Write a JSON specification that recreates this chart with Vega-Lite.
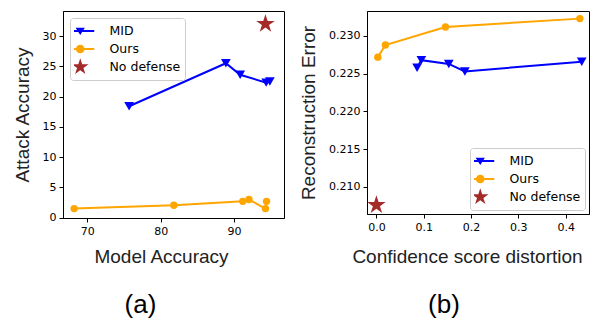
{
  "$schema": "https://vega.github.io/schema/vega-lite/v6.json",
  "padding": {"left": 12, "top": 10, "right": 2, "bottom": 0},
  "autosize": {"type": "pad"},
  "bounds": "flush",
  "spacing": 83,
  "config": {
    "view": {"stroke": "black", "strokeWidth": 1},
    "axis": {"grid": false, "domainColor": "black", "tickColor": "black", "tickSize": 4, "labelFont": "DejaVu Sans", "labelFontSize": 11, "labelColor": "black", "labelPadding": 3, "titleFont": "Liberation Sans", "titleFontSize": 19, "titleFontWeight": "normal", "titleColor": "#222222"},
    "legend": {"symbolSize": 100, "symbolOpacity": 1, "clipHeight": 18, "labelFont": "DejaVu Sans", "labelFontSize": 12.5, "labelColor": "black", "labelOffset": 23, "rowPadding": 0, "padding": 4, "fillColor": "white", "strokeColor": "#cccccc", "cornerRadius": 3}
  },
  "resolve": {"scale": {"color": "independent", "shape": "independent"}},
  "datasets": {
    "attack": [
      {"series": "MID", "model_acc": 75.7, "attack_acc": 18.4},
      {"series": "MID", "model_acc": 88.9, "attack_acc": 25.5},
      {"series": "MID", "model_acc": 90.85, "attack_acc": 23.6},
      {"series": "MID", "model_acc": 94.4, "attack_acc": 22.3},
      {"series": "MID", "model_acc": 94.9, "attack_acc": 22.5},
      {"series": "Ours", "model_acc": 68.2, "attack_acc": 1.5},
      {"series": "Ours", "model_acc": 81.8, "attack_acc": 2.05},
      {"series": "Ours", "model_acc": 91.2, "attack_acc": 2.7},
      {"series": "Ours", "model_acc": 92.05, "attack_acc": 3.0},
      {"series": "Ours", "model_acc": 94.3, "attack_acc": 1.5},
      {"series": "Ours", "model_acc": 94.45, "attack_acc": 2.7},
      {"series": "No defense", "model_acc": 94.3, "attack_acc": 32.0}
    ],
    "recon": [
      {"series": "MID", "distortion": 0.086, "recon_error": 0.2258},
      {"series": "MID", "distortion": 0.095, "recon_error": 0.2268},
      {"series": "MID", "distortion": 0.153, "recon_error": 0.2263},
      {"series": "MID", "distortion": 0.187, "recon_error": 0.2253},
      {"series": "MID", "distortion": 0.434, "recon_error": 0.2266},
      {"series": "Ours", "distortion": 0.003, "recon_error": 0.2272},
      {"series": "Ours", "distortion": 0.019, "recon_error": 0.2288},
      {"series": "Ours", "distortion": 0.146, "recon_error": 0.2312},
      {"series": "Ours", "distortion": 0.43, "recon_error": 0.2323},
      {"series": "No defense", "distortion": 0.0, "recon_error": 0.2076}
    ]
  },
  "hconcat": [
    {
      "width": 221,
      "height": 207,
      "data": {"name": "attack"},
      "title": {"text": "(a)", "orient": "bottom", "anchor": "middle", "frame": "group", "dx": -33, "offset": 26, "font": "Liberation Sans", "fontSize": 26, "fontWeight": "normal", "color": "black"},
      "encoding": {
        "x": {"field": "model_acc", "type": "quantitative", "scale": {"domain": [66.68, 96.83], "nice": false, "zero": false}, "axis": {"values": [70, 80, 90], "title": "Model Accuracy", "titleX": 98, "titlePadding": 11}},
        "y": {"field": "attack_acc", "type": "quantitative", "scale": {"domain": [-0.05, 34.13], "nice": false, "zero": false}, "axis": {"values": [0, 5, 10, 15, 20, 25, 30], "title": "Attack Accuracy", "titlePadding": 10}}
      },
      "layer": [
        {"transform": [{"filter": "datum.series == 'MID'"}], "mark": {"type": "line", "strokeWidth": 2, "color": "#0000ff"}},
        {"transform": [{"filter": "datum.series == 'Ours'"}], "mark": {"type": "line", "strokeWidth": 2, "color": "#ffa500"}},
        {"transform": [{"filter": "datum.series == 'MID'"}], "mark": {"type": "point", "shape": "triangle-down", "filled": true, "opacity": 1, "size": 95, "color": "#0000ff"}},
        {"transform": [{"filter": "datum.series == 'Ours'"}], "mark": {"type": "point", "shape": "circle", "filled": true, "opacity": 1, "size": 55, "color": "#ffa500"}},
        {"transform": [{"filter": "datum.series == 'No defense'"}], "mark": {"type": "point", "shape": "M0,-1L0.225,-0.309L0.951,-0.309L0.363,0.118L0.588,0.809L0,0.382L-0.588,0.809L-0.363,0.118L-0.951,-0.309L-0.225,-0.309Z", "filled": true, "opacity": 1, "size": 380, "color": "#a52a2a"}},
        {"transform": [{"filter": "false"}], "mark": {"type": "point", "filled": true, "opacity": 1},
          "encoding": {
            "color": {"field": "series", "type": "nominal", "scale": {"domain": ["MID", "Ours", "No defense"], "range": ["#0000ff", "#ffa500", "#a52a2a"]}, "legend": {"title": null, "orient": "top-left", "offset": 7}},
            "shape": {"field": "series", "type": "nominal", "scale": {"domain": ["MID", "Ours", "No defense"], "range": ["M-2.8,-0.2H2.8V0.2H-2.8ZM-0.93,-0.65H0.93L0,0.81Z", "M-2.8,-0.2H2.8V0.2H-2.8ZM-0.87,0A0.87,0.87 0 1,1 0.87,0A0.87,0.87 0 1,1 -0.87,0Z", "M0,-1.75L0.393,-0.541L1.664,-0.541L0.635,0.207L1.029,1.416L0,0.668L-1.029,1.416L-0.635,0.207L-1.664,-0.541L-0.393,-0.541Z"]}, "legend": {"title": null, "orient": "top-left", "offset": 7}}
          }
        }
      ]
    },
    {
      "width": 222,
      "height": 203,
      "data": {"name": "recon"},
      "title": {"text": "(b)", "orient": "bottom", "anchor": "middle", "frame": "group", "dx": -34, "offset": 26, "font": "Liberation Sans", "fontSize": 26, "fontWeight": "normal", "color": "black"},
      "encoding": {
        "x": {"field": "distortion", "type": "quantitative", "scale": {"domain": [-0.0199, 0.4494], "nice": false, "zero": false}, "axis": {"values": [0, 0.1, 0.2, 0.3, 0.4], "format": ".1f", "title": "Confidence score distortion", "titleX": 100, "titlePadding": 15}},
        "y": {"field": "recon_error", "type": "quantitative", "scale": {"domain": [0.20642, 0.23331], "nice": false, "zero": false}, "axis": {"values": [0.21, 0.215, 0.22, 0.225, 0.23], "format": ".3f", "title": "Reconstruction Error", "titlePadding": 10}}
      },
      "layer": [
        {"transform": [{"filter": "datum.series == 'MID'"}], "mark": {"type": "line", "strokeWidth": 2, "color": "#0000ff"}},
        {"transform": [{"filter": "datum.series == 'Ours'"}], "mark": {"type": "line", "strokeWidth": 2, "color": "#ffa500"}},
        {"transform": [{"filter": "datum.series == 'MID'"}], "mark": {"type": "point", "shape": "triangle-down", "filled": true, "opacity": 1, "size": 95, "color": "#0000ff"}},
        {"transform": [{"filter": "datum.series == 'Ours'"}], "mark": {"type": "point", "shape": "circle", "filled": true, "opacity": 1, "size": 55, "color": "#ffa500"}},
        {"transform": [{"filter": "datum.series == 'No defense'"}], "mark": {"type": "point", "shape": "M0,-1L0.225,-0.309L0.951,-0.309L0.363,0.118L0.588,0.809L0,0.382L-0.588,0.809L-0.363,0.118L-0.951,-0.309L-0.225,-0.309Z", "filled": true, "opacity": 1, "size": 380, "color": "#a52a2a"}},
        {"transform": [{"filter": "false"}], "mark": {"type": "point", "filled": true, "opacity": 1},
          "encoding": {
            "color": {"field": "series", "type": "nominal", "scale": {"domain": ["MID", "Ours", "No defense"], "range": ["#0000ff", "#ffa500", "#a52a2a"]}, "legend": {"title": null, "orient": "bottom-right", "offset": 4}},
            "shape": {"field": "series", "type": "nominal", "scale": {"domain": ["MID", "Ours", "No defense"], "range": ["M-2.8,-0.2H2.8V0.2H-2.8ZM-0.93,-0.65H0.93L0,0.81Z", "M-2.8,-0.2H2.8V0.2H-2.8ZM-0.87,0A0.87,0.87 0 1,1 0.87,0A0.87,0.87 0 1,1 -0.87,0Z", "M0,-1.75L0.393,-0.541L1.664,-0.541L0.635,0.207L1.029,1.416L0,0.668L-1.029,1.416L-0.635,0.207L-1.664,-0.541L-0.393,-0.541Z"]}, "legend": {"title": null, "orient": "bottom-right", "offset": 4}}
          }
        }
      ]
    }
  ]
}
